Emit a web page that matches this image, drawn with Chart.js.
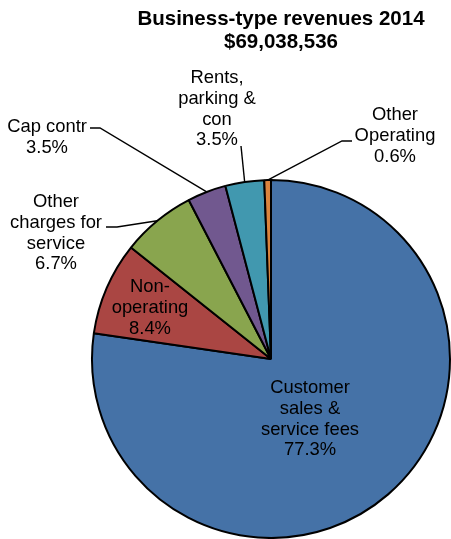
<!DOCTYPE html>
<html>
<head>
<meta charset="utf-8">
<script src="https://cdn.jsdelivr.net/npm/chart.js@4/dist/chart.umd.min.js"></script>
<style>
  html, body { margin: 0; padding: 0; background: #fff; }
  #revenue-pie { display: block; }
</style>
</head>
<body>
<canvas id="revenue-pie" width="451" height="539"></canvas>
<script>
/* ==================================== */
/*                 Data                 */
/* ==================================== */
const titleLines = ["Business-type revenues 2014", "$69,038,536"];
const categories = [
  "Customer\nsales &\nservice fees",
  "Non-\noperating",
  "Other\ncharges for\nservice",
  "Cap contr",
  "Rents,\nparking &\ncon",
  "Other\nOperating",
];
const shares = [77.3, 8.4, 6.7, 3.5, 3.5, 0.6];
const sliceColors = ["#4572a7", "#aa4643", "#89a54e", "#71588f", "#4198af", "#db843d"];

// where each label sits: text centre x, first baseline y, and optional leader line points
const labelLayout = [
  { x: 310, y: 393 },
  { x: 150, y: 292 },
  { x: 56, y: 207, hook: [[106, 227], [117, 227]] },
  { x: 47, y: 132, hook: [[90, 128], [100, 128]] },
  { x: 217, y: 83, hook: [[241, 146]] },
  { x: 395, y: 120, hook: [[352, 141], [342, 141]] },
];

const labelFont = "18.4px 'Liberation Sans', Arial, sans-serif";
const titleFont = "bold 20.5px 'Liberation Sans', Arial, sans-serif";
const lineGap = 20.8;

/* ==================================== */
/*          Labels + title plugin       */
/* ==================================== */
const pieLabels = {
  id: "pieLabels",
  afterDatasetsDraw(chart) {
    const ctx = chart.ctx;
    const arcs = chart.getDatasetMeta(0).data;
    const total = shares.reduce((a, b) => a + b, 0);
    ctx.save();

    // leader lines
    ctx.strokeStyle = "#000";
    ctx.lineWidth = 1.4;
    arcs.forEach((arc, i) => {
      const pos = labelLayout[i];
      if (!pos.hook) return;
      const mid = (arc.startAngle + arc.endAngle) / 2;
      const ex = arc.x + Math.cos(mid) * arc.outerRadius;
      const ey = arc.y + Math.sin(mid) * arc.outerRadius;
      ctx.beginPath();
      ctx.moveTo(pos.hook[0][0], pos.hook[0][1]);
      for (let k = 1; k < pos.hook.length; k++) ctx.lineTo(pos.hook[k][0], pos.hook[k][1]);
      ctx.lineTo(ex, ey);
      ctx.stroke();
    });

    // label text
    ctx.fillStyle = "#000";
    ctx.font = labelFont;
    ctx.textAlign = "center";
    ctx.textBaseline = "alphabetic";
    categories.forEach((name, i) => {
      const lines = name.split("\n");
      lines.push((shares[i] / total * 100).toFixed(1) + "%");
      lines.forEach((ln, k) => {
        ctx.fillText(ln, labelLayout[i].x, labelLayout[i].y + k * lineGap);
      });
    });

    // title
    ctx.font = titleFont;
    ctx.fillText(titleLines[0], 281, 25);
    ctx.fillText(titleLines[1], 281, 48);
    ctx.restore();
  },
};

/* ==================================== */
/*                 Chart                */
/* ==================================== */
const revenueCanvas = document.querySelector("#revenue-pie");
const revenueChart = new Chart(revenueCanvas, {
  type: "pie",
  data: {
    labels: categories,
    datasets: [
      {
        data: shares,
        backgroundColor: sliceColors,
        borderColor: "#000",
        borderWidth: 2,
      },
    ],
  },
  options: {
    responsive: false,
    devicePixelRatio: 1,
    animation: false,
    layout: {
      padding: { left: 91, top: 179, right: 0, bottom: 0 },
    },
    plugins: {
      legend: { display: false },
      tooltip: { enabled: false },
      title: { display: false },
    },
  },
  plugins: [pieLabels],
});
</script>
</body>
</html>
